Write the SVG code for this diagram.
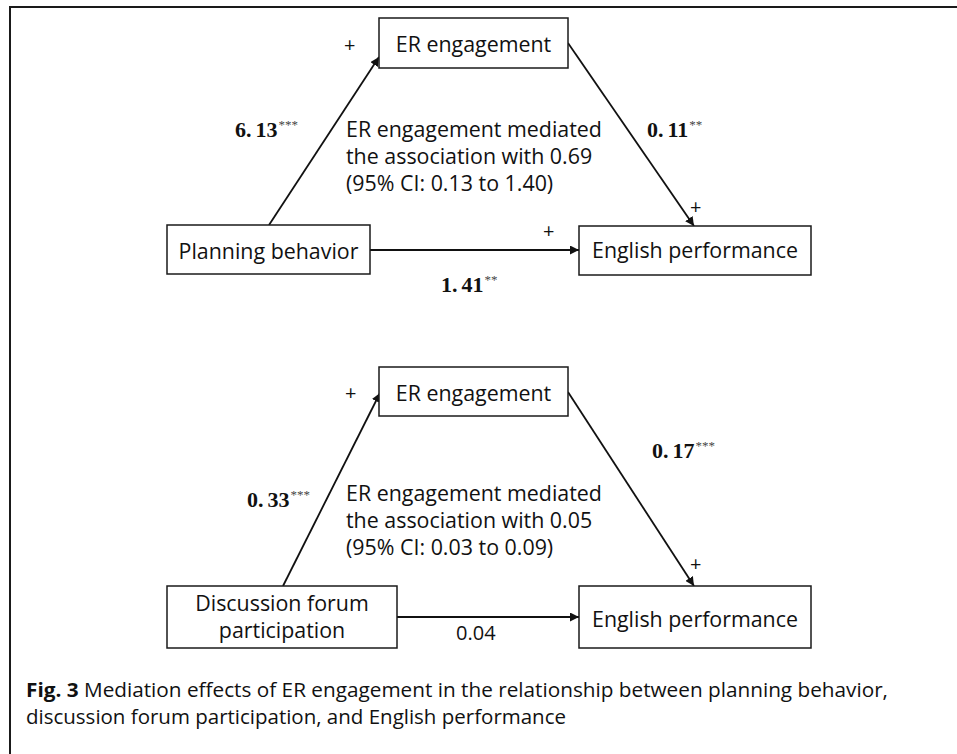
<svg xmlns="http://www.w3.org/2000/svg" width="957" height="754" viewBox="0 0 957 754">
<style>
.frame{fill:none;stroke:#1a1a1a;stroke-width:2}
.box{fill:#fff;stroke:#1a1a1a;stroke-width:1.5}
.lbl{font-family:"Open Sans","Noto Sans","DejaVu Sans",sans-serif;font-size:21.4px;fill:#111}
.mid{text-anchor:middle}
.coef{font-family:"Liberation Serif","DejaVu Serif",serif;font-size:22px;font-weight:bold;fill:#111}
.star{font-family:"Liberation Serif","DejaVu Serif",serif;font-size:13px;font-weight:normal;fill:#444}
.plus{font-family:"Open Sans","Noto Sans",sans-serif;font-size:20px;fill:#111}
.cap{font-family:"Open Sans","Noto Sans",sans-serif;font-size:19.5px;fill:#111}
.conn{fill:none;stroke:#111;stroke-width:1.8;marker-end:url(#arr)}
</style>
<defs>
<marker id="arr" viewBox="0 0 10 10" refX="10" refY="5" markerWidth="5" markerHeight="5" orient="auto" markerUnits="strokeWidth">
<path d="M0,0 L10,5 L0,10 z" fill="#111"/>
</marker>
</defs>
<rect class="frame" x="10" y="7" width="960" height="760"/>

<g id="connectors">
<line class="conn" x1="269" y1="225" x2="379" y2="57"/>
<line class="conn" x1="568" y1="43" x2="694" y2="226"/>
<line class="conn" x1="370" y1="250" x2="579" y2="250"/>
<line class="conn" x1="283" y1="586" x2="380" y2="393"/>
<line class="conn" x1="568" y1="392" x2="694" y2="586"/>
<line class="conn" x1="397" y1="617" x2="579" y2="617"/>
</g>

<g id="er1">
<rect class="box" x="379" y="18" width="189" height="50"/>
<text class="lbl mid" x="473.5" y="52">ER engagement</text>
</g>
<g id="planning">
<rect class="box" x="167" y="225" width="203" height="49"/>
<text class="lbl mid" x="268.5" y="259">Planning behavior</text>
</g>
<g id="english1">
<rect class="box" x="579" y="226" width="232" height="49"/>
<text class="lbl mid" x="695" y="258">English performance</text>
</g>

<g id="er2">
<rect class="box" x="379" y="367" width="189" height="49"/>
<text class="lbl mid" x="473.5" y="401">ER engagement</text>
</g>
<g id="discussion">
<rect class="box" x="167" y="586" width="230" height="62"/>
<text class="lbl mid" x="282" y="611">Discussion forum</text>
<text class="lbl mid" x="282" y="638">participation</text>
</g>
<g id="english2">
<rect class="box" x="579" y="586" width="232" height="62"/>
<text class="lbl mid" x="695" y="627">English performance</text>
</g>

<g id="labels">
<text class="plus" x="344" y="52">+</text>
<text class="plus" x="690" y="214">+</text>
<text class="plus" x="543" y="238">+</text>
<text class="plus" x="345" y="400">+</text>
<text class="plus" x="690" y="571">+</text>

<text class="coef" x="235" y="137">6.<tspan dx="4">13</tspan><tspan class="star" dx="1" dy="-8">***</tspan></text>
<text class="coef" x="647" y="137">0.<tspan dx="4">11</tspan><tspan class="star" dx="1" dy="-8">**</tspan></text>
<text class="coef" x="441" y="292">1.<tspan dx="4">41</tspan><tspan class="star" dx="1" dy="-8">**</tspan></text>
<text class="coef" x="247" y="507">0.<tspan dx="4">33</tspan><tspan class="star" dx="1" dy="-8">***</tspan></text>
<text class="coef" x="652" y="458">0.<tspan dx="4">17</tspan><tspan class="star" dx="1" dy="-8">***</tspan></text>
<text class="lbl" x="456" y="640" style="font-size:20px">0.04</text>

<text class="lbl" x="346" y="137">ER engagement mediated</text>
<text class="lbl" x="346" y="164">the association with 0.69</text>
<text class="lbl" x="346" y="191">(95% CI: 0.13 to 1.40)</text>

<text class="lbl" x="346" y="501">ER engagement mediated</text>
<text class="lbl" x="346" y="528">the association with 0.05</text>
<text class="lbl" x="346" y="555">(95% CI: 0.03 to 0.09)</text>
</g>

<g id="caption">
<text class="cap" x="26" y="697" textLength="862" lengthAdjust="spacingAndGlyphs"><tspan font-weight="bold">Fig. 3</tspan> Mediation effects of ER engagement in the relationship between planning behavior,</text>
<text class="cap" x="26" y="724" textLength="540" lengthAdjust="spacingAndGlyphs">discussion forum participation, and English performance</text>
</g>
</svg>
